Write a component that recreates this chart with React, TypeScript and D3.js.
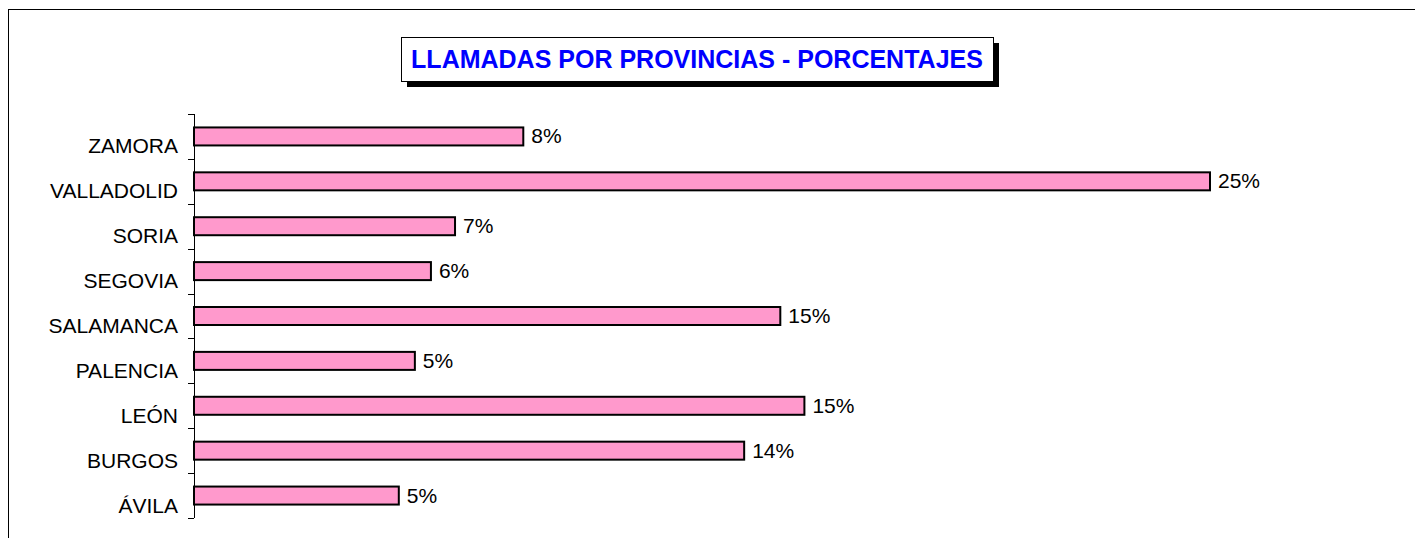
import React from "react";
import * as d3 from "d3";

const categories = ["ZAMORA", "VALLADOLID", "SORIA", "SEGOVIA", "SALAMANCA", "PALENCIA", "LEÓN", "BURGOS", "ÁVILA"];
const values = [8.2, 25.3, 6.5, 5.9, 14.6, 5.5, 15.2, 13.7, 5.1];
const valueLabels = ["8%", "25%", "7%", "6%", "15%", "5%", "15%", "14%", "5%"];
const title = "LLAMADAS POR PROVINCIAS - PORCENTAJES";

const W = 1415;
const H = 538;

export default function App() {
  const x = d3.scaleLinear().domain([0, 30]).range([194, 194 + 30 * (1016 / 25.3)]);
  const y = d3.scaleBand<string>().domain(categories).range([114, 518]).paddingInner(0).paddingOuter(0);
  const bw = y.bandwidth();
  const barH = 18;
  const ticks = d3.range(categories.length + 1).map((i) => 114 + i * bw);

  return (
    <div style={{ position: "absolute", left: 0, top: 0, width: W, height: H, overflow: "hidden" }}>
      <svg width={W} height={H} style={{ display: "block", fontFamily: "'Liberation Sans', Arial, sans-serif" }}>
        <rect x={0} y={0} width={W} height={H} fill="#fff" />
        <rect x={8.5} y={9.5} width={W + 20} height={H + 20} fill="none" stroke="#000" strokeWidth={1} />
        {/* title */}
        <rect x={407} y={43} width={592} height={44} fill="#000" />
        <rect x={401.5} y={37.5} width={592} height={44} fill="#fff" stroke="#000" strokeWidth={1} />
        <text x={697} y={68} textAnchor="middle" fontSize={25} fontWeight="bold" fill="#0000FF">{title}</text>
        {/* axis */}
        <line x1={194.5} x2={194.5} y1={114} y2={518} stroke="#000" strokeWidth={1} />
        {ticks.map((t, i) => (
          <line key={i} x1={188} x2={194} y1={Math.round(t) + 0.5} y2={Math.round(t) + 0.5} stroke="#000" strokeWidth={1} />
        ))}
        {categories.map((c, i) => {
          const cy = (y(c) as number) + bw / 2;
          return (
            <g key={c}>
              <rect x={x(0)} y={cy - barH / 2} width={x(values[i]) - x(0)} height={barH} fill="#FF99CC" stroke="#000" strokeWidth={2} />
              <text x={178} y={cy + 17} textAnchor="end" fontSize={21} fill="#000">{c}</text>
              <text x={x(values[i]) + 8} y={cy + 7} fontSize={21} fill="#000">{valueLabels[i]}</text>
            </g>
          );
        })}
      </svg>
    </div>
  );
}
